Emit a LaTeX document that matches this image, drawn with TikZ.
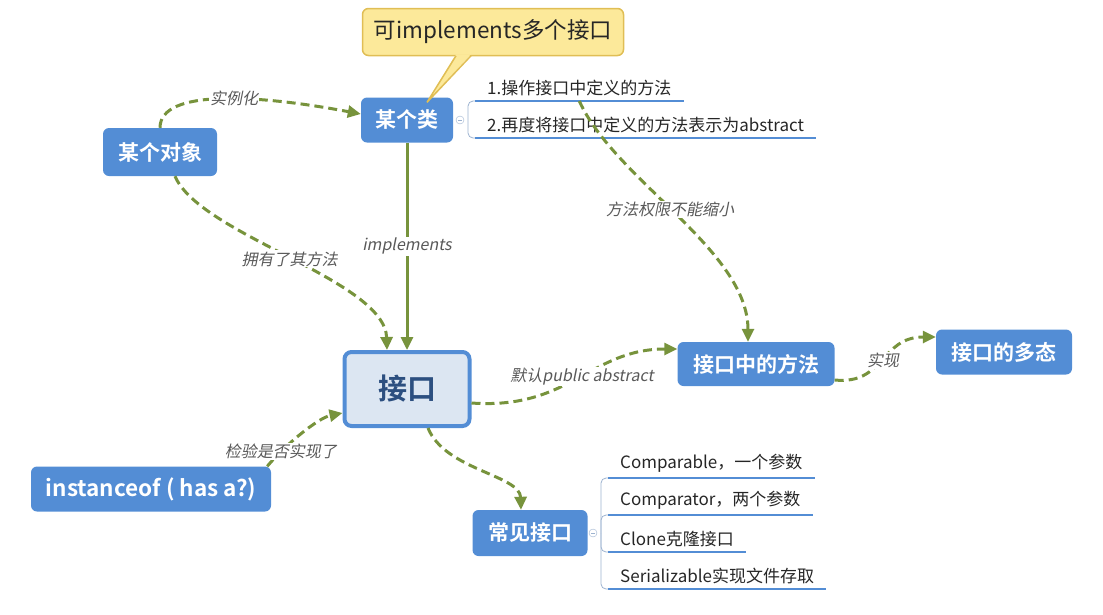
\documentclass[tikz,border=0pt]{standalone}
\usepackage{fontspec}
\setmainfont{Noto Sans CJK SC}[BoldFont={Noto Sans CJK SC Bold}]
\newfontfamily\lblfont[FakeSlant=0.2]{Noto Sans CJK SC}
\usepackage{xcolor}
\usepackage{tikz}
\usetikzlibrary{arrows.meta,positioning}

\definecolor{boxblue}{HTML}{538DD5}
\definecolor{linegreen}{HTML}{77933C}
\definecolor{ifacefill}{HTML}{DCE6F2}
\definecolor{ifacetext}{HTML}{2C4F80}
\definecolor{notefill}{HTML}{FCE99A}
\definecolor{notedraw}{HTML}{E0BE55}
\definecolor{lblgray}{HTML}{595959}
\definecolor{brkgray}{HTML}{9DB3D0}

\begin{document}
\begin{tikzpicture}[x=1pt,y=-1pt,
  topic/.style={fill=boxblue,text=white,rounded corners=6pt,inner sep=0pt,minimum height=46pt,font=\bfseries\fontsize{21}{25}\selectfont},
  link/.style={draw=linegreen,line width=3pt,dash pattern=on 9pt off 5pt,-{Triangle[length=13pt,width=12pt]}},
  lbl/.style={fill=white,inner sep=1pt,text=lblgray,font=\lblfont\fontsize{16}{19}\selectfont},
  item/.style={anchor=south west,inner xsep=12pt,inner ysep=5pt,text=black!85,font=\fontsize{17}{20}\selectfont},
  uline/.style={draw=boxblue,line width=2.5pt},
  brk/.style={draw=brkgray,line width=.8pt,rounded corners=5pt},
  fold/.style={draw=brkgray,fill=white,circle,inner sep=0pt,minimum size=8pt}]
  \useasboundingbox (0,0) rectangle (1103,614);

  % main topics
  \node[topic,minimum width=114pt,minimum height=48pt] (obj) at (160,152) {某个对象};
  \node[topic,minimum width=92pt,minimum height=45pt] (cls) at (407,120) {某个类};
  \node[draw=boxblue,line width=4pt,fill=ifacefill,rounded corners=7pt,minimum width=125pt,minimum height=74pt,text=ifacetext,font=\bfseries\fontsize{29}{34}\selectfont] (iface) at (407,389) {接口};
  \node[topic,minimum width=157pt,minimum height=44pt] (meth) at (756,364) {接口中的方法};
  \node[topic,minimum width=136pt,minimum height=45pt] (poly) at (1004,352) {接口的多态};
  \node[topic,minimum width=240pt,minimum height=45pt,font=\bfseries\fontsize{22.5}{26}\selectfont] (inst) at (151,489) {instanceof ( has a?)};
  \node[topic,minimum width=115pt,minimum height=46pt] (com) at (530,533) {常见接口};

  % callout
  \node[fill=notefill,draw=notedraw,line width=1.5pt,rounded corners=6pt,minimum width=261pt,minimum height=47pt,text=black!85,font=\fontsize{22.5}{26}\selectfont] (note) at (493,32) {可implements多个接口};
  \fill[notefill] ([xshift=-37pt,yshift=2pt]note.south) -- ([xshift=20pt,yshift=-5pt]cls.north) -- ([xshift=-22pt,yshift=2pt]note.south) -- cycle;
  \draw[notedraw,line width=1.5pt] ([xshift=-37pt,yshift=.5pt]note.south) -- ([xshift=20pt,yshift=-5pt]cls.north) -- ([xshift=-22pt,yshift=.5pt]note.south);

  % branches of 某个类
  \node[item] (m1) at (475,101) {1.操作接口中定义的方法};
  \node[item] (m2) at (475,138) {2.再度将接口中定义的方法表示为abstract};
  \draw[uline] (m1.south west) -- (m1.south east);
  \draw[uline] (m2.south west) -- (m2.south east);
  \coordinate (mb) at (468,120);
  \draw[brk] (m1.south west) -| (mb) |- (m2.south west);
  \node[fold] (mf) at (460,120) {};
  \draw[brkgray,line width=.6pt] ([xshift=-2pt]mf.center) -- ([xshift=2pt]mf.center);

  % branches of 常见接口
  \node[item] (c1) at (608,478) {Comparable，一个参数};
  \node[item] (c2) at (608,515) {Comparator，两个参数};
  \node[item] (c3) at (608,552) {Clone克隆接口};
  \node[item] (c4) at (608,589) {Serializable实现文件存取};
  \foreach \c in {c1,c2,c3,c4}
    \draw[uline] (\c.south west) -- (\c.south east);
  \coordinate (cb) at (601,533);
  \draw[brk] (c1.south west) -| (cb) |- (c4.south west);
  \draw[brk] (c2.south west) -| (cb);
  \draw[brk] (c3.south west) -| (cb);
  \node[fold] (cf) at (593,533) {};
  \draw[brkgray,line width=.6pt] ([xshift=-2pt]cf.center) -- ([xshift=2pt]cf.center);

  % connectors
  \draw[link] (obj.north) .. controls (160,88) and (260,95) .. ([yshift=6pt]cls.west) node[lbl,pos=.55] {实例化};
  \draw[link] ([xshift=15pt]obj.south) .. controls (200,235) and (385,280) .. ([xshift=-20pt]iface.north) node[lbl,pos=.5] {拥有了其方法};
  \draw[draw=linegreen,line width=3pt,-{Triangle[length=13pt,width=12pt]}] (cls) -- (iface) node[lbl,midway] {implements};
  \draw[link] ([yshift=-14pt]iface.east) .. controls (570,410) and (590,349) .. ([yshift=15pt]meth.west) node[lbl,pos=.52] {默认public abstract};
  \draw[link] (m1.south) .. controls (615,180) and (748,250) .. ([xshift=-8pt]meth.north) node[lbl,pos=.47] {方法权限不能缩小};
  \draw[link] ([yshift=-16pt]meth.east) .. controls (885,385) and (880,337) .. ([yshift=15pt]poly.west) node[lbl,pos=.5] {实现};
  \draw[link] ([xshift=-4pt]inst.north east) .. controls (285,445) and (318,418) .. ([yshift=-24pt]iface.west) node[lbl,pos=.22] {检验是否实现了};
  \draw[link] ([xshift=21pt]iface.south) .. controls (445,470) and (520,475) .. ([xshift=-9pt]com.north);
\end{tikzpicture}
\end{document}
